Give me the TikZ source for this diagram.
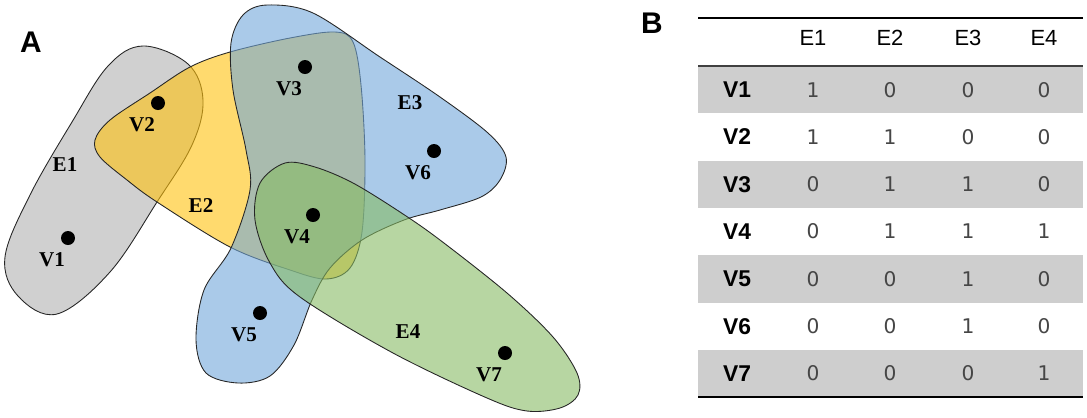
\documentclass[tikz,border=0pt]{standalone}
\usepackage{fontspec}
\setmainfont{Liberation Serif}
\newfontfamily\tabfont{Liberation Sans}
\newfontfamily\numfont{DejaVu Sans}
\usetikzlibrary{calc,positioning}

\definecolor{egray}{RGB}{177,177,177}
\definecolor{eyellow}{RGB}{255,193,13}
\definecolor{eblue}{RGB}{113,167,218}
\definecolor{egreen}{RGB}{135,187,100}
\definecolor{rowgray}{RGB}{206,206,206}
\definecolor{numgray}{RGB}{70,70,70}

\tikzset{
  edgeset/.style={draw=black!85,line width=0.5pt,fill opacity=0.6},
  dot/.style={circle,fill=black,inner sep=0pt,minimum size=0.28cm},
  vlab/.style={font=\fontsize{12}{14}\selectfont\bfseries,inner sep=0pt},
  elab/.style={font=\fontsize{12}{14}\selectfont\bfseries,inner sep=0pt},
  panel/.style={font=\tabfont\fontsize{17}{20}\selectfont\bfseries,inner sep=0pt},
  cell/.style={font=\numfont\fontsize{11.5}{14}\selectfont,text=numgray,inner sep=0pt},
  head/.style={font=\tabfont\fontsize{12.5}{14}\selectfont,text=black,inner sep=0pt},
}

\begin{document}
\begin{tikzpicture}[x=0.02cm,y=-0.02cm]
\useasboundingbox (0,0) rectangle (1087,417);
%% panel A: hypergraph
\node[panel] (A) at (31,42) {A};
\filldraw[fill=egray,edgeset] plot[smooth cycle,tension=0.6] coordinates {(143,46) (188,64) (203,100) (192,145) (157,202) (110,272) (57,314) (18,296) (5,257) (30,195) (72,122) (108,66)};
\filldraw[fill=eyellow,edgeset] plot[smooth cycle,tension=0.55] coordinates {(95,140) (110,120) (150,93) (190,67) (230,52) (290,38) (335,32) (353,42) (361,85) (365,160) (362,232) (350,268) (326,279) (290,270) (230,247) (157,202) (127,180) (100,157)};
\filldraw[fill=eblue,edgeset] plot[smooth cycle,tension=0.55] coordinates {(267,5) (313,13) (380,57) (440,97) (488,133) (506,157) (500,180) (481,197) (440,210) (404,220) (362,240) (330,268) (312,300) (294,345) (270,376) (238,383) (206,373) (196,340) (204,290) (231,248) (250,190) (246,150) (233,90) (231,43) (243,15)};
\filldraw[fill=egreen,edgeset] plot[smooth cycle,tension=0.55] coordinates {(285,163) (315,167) (353,183) (400,212) (440,240) (507,293) (553,337) (577,373) (578,395) (560,408) (527,411) (487,398) (393,353) (300,297) (270,263) (255,220) (260,183)};
\foreach \n/\x/\y in {V1/68/238,V2/158/103,V3/305/67,V4/313/215,V5/260/313,V6/434/151,V7/505/353}
{\node[dot] (\n) at (\x,\y) {};
 \node[vlab] (\n-lab) at ([shift={(-16,22)}]\n) {\n};}
\node[elab] (E1) at (65,165) {E1};
\node[elab] (E2) at (201,206) {E2};
\node[elab] (E3) at (410,103) {E3};
\node[elab] (E4) at (408,332) {E4};
%% panel B: incidence matrix
\node[panel] (B) at (652,23) {B};
\foreach \v/\a/\b/\c/\d [count=\i] in {V1/1/0/0/0,V2/1/1/0/0,V3/0/1/1/0,V4/0/1/1/1,V5/0/0/1/0,V6/0/0/1/0,V7/0/0/0/1}
{\ifodd\i \fill[rowgray] (698,{66+47.3*(\i-1)}) rectangle (1083,{66+47.3*\i}); \fi
 \node[head,font=\tabfont\fontsize{13}{15}\selectfont\bfseries] (r\i) at (737,{66+47.3*(\i-0.5)}) {\v};
 \node[cell] (c\i-1) at (813,{66+47.3*(\i-0.5)}) {\a};
 \node[cell] (c\i-2) at (890,{66+47.3*(\i-0.5)}) {\b};
 \node[cell] (c\i-3) at (968,{66+47.3*(\i-0.5)}) {\c};
 \node[cell] (c\i-4) at (1044,{66+47.3*(\i-0.5)}) {\d};}
\foreach \e/\x in {E1/813,E2/890,E3/968,E4/1044}
{\node[head] (h-\e) at (\x,38) {\e};}
\draw[line width=0.6pt] (698,18)--(1083,18);
\draw[line width=1pt,black!75] (698,66)--(1083,66);
\draw[line width=1pt] (698,397)--(1083,397);
\end{tikzpicture}
\end{document}
